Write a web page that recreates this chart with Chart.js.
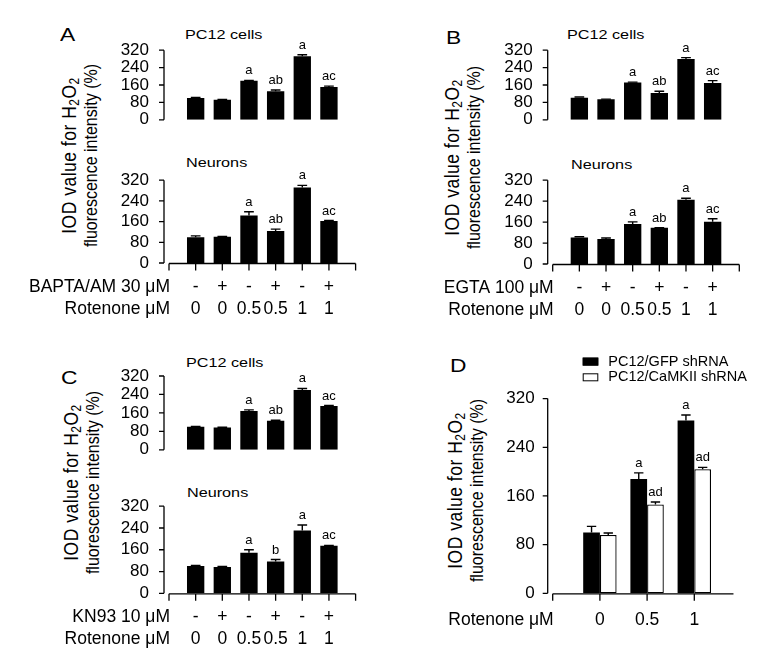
<!DOCTYPE html>
<html>
<head>
<meta charset="utf-8">
<script src="https://cdn.jsdelivr.net/npm/chart.js@4.4.0/dist/chart.umd.min.js"></script>
<style>
  html, body { margin: 0; padding: 0; background: #fff; }
  body { width: 782px; height: 649px; position: relative; overflow: hidden;
         font-family: 'Liberation Sans', Arial, sans-serif; color: #000; }
  canvas { position: absolute; }
  .lbl { position: absolute; white-space: nowrap; transform: scaleX(1.2); transform-origin: 0 0; }
  .pl { font-size: 19px; line-height: 19px; }
  .st { font-size: 13.5px; line-height: 13.5px; }
  .yt { position: absolute; width: 240px; height: 35px; font-size: 16px; line-height: 17.5px;
        text-align: center; white-space: nowrap; transform: scaleX(1.2) rotate(-90deg); }
  .yt .l1 { font-size: 17.5px; letter-spacing: 0.5px; }
  .yt sub { font-size: 12px; line-height: 0; vertical-align: -3px; }
</style>
</head>
<body>
<div class="lbl pl" style="left:60px;top:24.5px">A</div>
<div class="lbl pl" style="left:446px;top:27.5px">B</div>
<div class="lbl pl" style="left:61px;top:367.5px">C</div>
<div class="lbl pl" style="left:450px;top:355.5px">D</div>

<div class="lbl st" style="left:185px;top:28.2px">PC12 cells</div>
<div class="lbl st" style="left:186px;top:156.2px">Neurons</div>
<div class="lbl st" style="left:567px;top:28.2px">PC12 cells</div>
<div class="lbl st" style="left:571px;top:158.2px">Neurons</div>
<div class="lbl st" style="left:186px;top:356.2px">PC12 cells</div>
<div class="lbl st" style="left:187px;top:486.2px">Neurons</div>

<div class="yt" style="left:-40px;top:137.5px"><span class="l1">IOD value for H<sub>2</sub>O<sub>2</sub></span><br>fluorescence intensity (%)</div>
<div class="yt" style="left:343px;top:139.5px"><span class="l1">IOD value for H<sub>2</sub>O<sub>2</sub></span><br>fluorescence intensity (%)</div>
<div class="yt" style="left:-38.5px;top:464.5px"><span class="l1">IOD value for H<sub>2</sub>O<sub>2</sub></span><br>fluorescence intensity (%)</div>
<div class="yt" style="left:346px;top:472.5px"><span class="l1">IOD value for H<sub>2</sub>O<sub>2</sub></span><br>fluorescence intensity (%)</div>

<canvas id="aTop"></canvas>
<canvas id="aBot"></canvas>
<canvas id="bTop"></canvas>
<canvas id="bBot"></canvas>
<canvas id="cTop"></canvas>
<canvas id="cBot"></canvas>
<canvas id="dChart"></canvas>

<script>
// ----- data -----
const inhibitorSigns = ["-", "+", "-", "+", "-", "+"];
const rotenoneDoses = ["0", "0", "0.5", "0.5", "1", "1"];
const rotenoneGroups = ["0", "0.5", "1"];
const yTicksMax = 320;
const yTickStep = 80;

// Panel A (BAPTA/AM)
const aPc12 = [100, 92, 179, 131, 292, 151];
const aPc12Err = [3, 2, 2, 6, 7, 4];
const aNeu = [100, 101, 184, 124, 292, 162];
const aNeuErr = [5, 2, 14, 7, 8, 2];
// Panel B (EGTA)
const bPc12 = [101, 94, 171, 123, 280, 169];
const bPc12Err = [4, 1, 2, 8, 6, 11];
const bNeu = [101, 95, 153, 138, 245, 161];
const bNeuErr = [3, 4, 8, 1, 6, 12];
// Panel C (KN93)
const cPc12 = [100, 97, 168, 126, 259, 190];
const cPc12Err = [1, 1, 5, 2, 7, 2];
const cNeu = [100, 97, 149, 117, 231, 175];
const cNeuErr = [2, 2, 11, 7, 20, 1];
// significance letters
const lettersAB = ["", "", "a", "ab", "a", "ac"];
const lettersCNeu = ["", "", "a", "b", "a", "ac"];
// Panel D (shRNA)
const dGfp = [100, 188, 284];
const dGfpErr = [10, 10, 9];
const dGfpLetters = ["", "a", "a"];
const dCamk = [96, 146, 204];
const dCamkErr = [3, 4, 3];
const dCamkLetters = ["", "ad", "ad"];

const FONT = "'Liberation Sans', Arial, sans-serif";
Chart.defaults.font.family = FONT;
Chart.defaults.color = "#000";

// empty slot at both ends of the category axis
const pad = (arr, v) => [v, ...arr, v];

// axis lines and tick marks, drawn with the chart's own scales
const axesPlugin = {
  id: "axes",
  afterDraw(chart, args, o) {
    const { ctx, chartArea: ca, scales: { x, y } } = chart;
    ctx.save();
    ctx.strokeStyle = "#000";
    ctx.lineWidth = 1.3;
    ctx.beginPath();
    const ax = ca.left - 5;
    ctx.moveTo(ax, y.getPixelForValue(yTicksMax));
    ctx.lineTo(ax, y.getPixelForValue(0));
    y.ticks.forEach((t) => {
      const py = y.getPixelForValue(t.value);
      ctx.moveTo(ax - 5, py);
      ctx.lineTo(ax, py);
    });
    if (o.xEnd) {
      const py = ca.bottom + 0.5;
      ctx.moveTo(x.getPixelForValue(0), py);
      ctx.lineTo(x.getPixelForValue(o.xEnd), py);
      o.xTicks.forEach((v) => {
        const px = x.getPixelForValue(v);
        ctx.moveTo(px, py);
        ctx.lineTo(px, py + 7);
      });
    }
    ctx.stroke();
    ctx.restore();
  },
};

// error bars (upper half) and letters above the bars
const errPlugin = {
  id: "errLetters",
  afterDatasetsDraw(chart) {
    const { ctx, scales: { y } } = chart;
    ctx.save();
    chart.data.datasets.forEach((ds, di) => {
      chart.getDatasetMeta(di).data.forEach((bar, i) => {
        const v = ds.data[i];
        if (v == null) return;
        const top = y.getPixelForValue(v + ds.err[i]);
        const half = bar.width * 0.28;
        ctx.strokeStyle = "#000";
        ctx.lineWidth = 1.4;
        ctx.beginPath();
        ctx.moveTo(bar.x, bar.y);
        ctx.lineTo(bar.x, top);
        ctx.moveTo(bar.x - half, top);
        ctx.lineTo(bar.x + half, top);
        ctx.stroke();
        if (ds.letters[i]) {
          ctx.fillStyle = "#000";
          ctx.font = "13px " + FONT;
          ctx.textAlign = "center";
          ctx.textBaseline = "alphabetic";
          ctx.fillText(ds.letters[i], bar.x, top - 6);
        }
      });
    });
    ctx.restore();
  },
};

// row titles to the left of the x tick table
const rowPlugin = {
  id: "rowHeads",
  afterDraw(chart, args, o) {
    if (!o.rows) return;
    const { ctx, chartArea: ca } = chart;
    ctx.save();
    ctx.font = "17.5px " + FONT;
    ctx.fillStyle = "#000";
    ctx.textAlign = "right";
    ctx.textBaseline = "middle";
    o.rows.forEach((t, i) => {
      ctx.fillText(t, ca.left + 1, ca.bottom + o.pad + o.lh / 2 + i * o.lh);
    });
    ctx.restore();
  },
};

// small legend for panel D
const keyPlugin = {
  id: "key",
  afterDraw(chart, args, o) {
    if (!o.show) return;
    const { ctx, chartArea: ca } = chart;
    ctx.save();
    ctx.font = "14.5px " + FONT;
    ctx.textBaseline = "middle";
    ctx.textAlign = "left";
    chart.data.datasets.forEach((ds, i) => {
      const bx = ca.left + 30;
      const cy = ca.top + o.rowY[i];
      ctx.fillStyle = ds.backgroundColor;
      ctx.fillRect(bx, cy - 4, 15.6, 8);
      ctx.strokeStyle = "#000";
      ctx.lineWidth = 1;
      ctx.strokeRect(bx + 0.5, cy - 3.5, 14.6, 7);
      ctx.fillStyle = "#000";
      ctx.fillText(ds.label, bx + 25.6, cy);
    });
    ctx.restore();
  },
};

const YW = 60;

function makeChart(id, box, area, cfg) {
  const c = document.getElementById(id);
  c.style.left = box[0] + "px";
  c.style.top = box[1] + "px";
  c.width = box[2];
  c.height = box[3];
  c.style.width = box[2] + "px";
  c.style.height = box[3] + "px";
  const xh = cfg.xh || 0;
  const padding = {
    left: area[0] - box[0] - YW,
    top: area[1] - box[1],
    right: box[0] + box[2] - area[2],
    bottom: box[1] + box[3] - area[3] - xh,
  };
  return new Chart(c, {
    type: "bar",
    data: { labels: cfg.labels, datasets: cfg.datasets },
    options: {
      responsive: false,
      animation: false,
      layout: { padding },
      plugins: {
        legend: { display: false },
        tooltip: { enabled: false },
        axes: { xEnd: cfg.xEnd, xTicks: cfg.xTicks },
        rowHeads: { rows: cfg.rows, pad: cfg.tickPad, lh: 22.5 },
        key: { show: cfg.key, rowY: [-37, -21.3] },
      },
      scales: {
        x: {
          display: xh > 0,
          offset: false,
          grid: { display: false, drawTicks: false },
          border: { display: false },
          ticks: {
            autoSkip: false,
            maxRotation: 0,
            minRotation: 0,
            padding: cfg.tickPad || 0,
            font: { size: 17.5, lineHeight: "22.5px" },
          },
          afterFit: (s) => { s.height = xh; },
        },
        y: {
          min: 0,
          max: yTicksMax,
          grid: { display: false, drawTicks: false },
          border: { display: false },
          ticks: { stepSize: yTickStep, autoSkip: false, padding: cfg.yPad || 20, font: { size: 17 } },
          afterFit: (s) => { s.width = YW; },
        },
      },
    },
    plugins: [axesPlugin, errPlugin, rowPlugin, keyPlugin],
  });
}

const tableLabels = pad(inhibitorSigns.map((s, i) => [s, rotenoneDoses[i]]), "");
const hiddenLabels = pad(inhibitorSigns.map((s, i) => s + rotenoneDoses[i]), "");

function blackSet(values, err, letters) {
  return {
    data: pad(values, null),
    err: pad(err, null),
    letters: pad(letters, ""),
    backgroundColor: "#000",
    borderWidth: 0,
    barPercentage: 0.65,
    categoryPercentage: 1,
  };
}

function pairCharts(ids, topVals, topErr, botVals, botErr, botLetters, rowTitle, topBox, botBox, topArea, botArea, xh) {
  makeChart(ids[0], topBox, topArea, {
    labels: hiddenLabels,
    datasets: [blackSet(topVals, topErr, lettersAB)],
  });
  makeChart(ids[1], botBox, botArea, {
    labels: tableLabels,
    datasets: [blackSet(botVals, botErr, botLetters)],
    xh: xh,
    xEnd: 7,
    xTicks: [0, 1, 2, 3, 4, 5, 6, 7],
    tickPad: 12.5,
    rows: [rowTitle, "Rotenone \u03bcM"],
  });
}

pairCharts(["aTop", "aBot"], aPc12, aPc12Err, aNeu, aNeuErr, lettersAB, "BAPTA/AM 30 \u03bcM",
  [100, 20, 270, 130], [10, 150, 360, 175], [169, 46, 355.6, 139.5], [169, 169.5, 355.6, 263], 60);
pairCharts(["bTop", "bBot"], bPc12, bPc12Err, bNeu, bNeuErr, lettersAB, "EGTA 100 \u03bcM",
  [470, 20, 290, 130], [400, 150, 360, 177], [552.7, 45.5, 739.3, 140], [552.7, 169, 739.3, 264], 60);
pairCharts(["cTop", "cBot"], cPc12, cPc12Err, cNeu, cNeuErr, lettersCNeu, "KN93 10 \u03bcM",
  [100, 345, 270, 135], [10, 476, 360, 173], [169, 376, 355.6, 470], [169, 500, 355.6, 593.3], 55);

makeChart("dChart", [430, 340, 352, 300], [552.7, 398.6, 741.5, 593.3], {
  labels: pad(rotenoneGroups, ""),
  datasets: [
    {
      label: "PC12/GFP shRNA",
      data: pad(dGfp, null),
      err: pad(dGfpErr, null),
      letters: pad(dGfpLetters, ""),
      backgroundColor: "#000",
      borderWidth: 0,
      barPercentage: 1,
      categoryPercentage: 0.708,
    },
    {
      label: "PC12/CaMKII shRNA",
      data: pad(dCamk, null),
      err: pad(dCamkErr, null),
      letters: pad(dCamkLetters, ""),
      backgroundColor: "#fff",
      borderColor: "#000",
      borderWidth: 1.3,
      borderSkipped: false,
      barPercentage: 1,
      categoryPercentage: 0.708,
    },
  ],
  xh: 35,
  xEnd: 3.83,
  xTicks: [0, 1, 2, 3],
  tickPad: 15.5,
  rows: ["Rotenone \u03bcM"],
  key: true,
  yPad: 18,
});
</script>
</body>
</html>
